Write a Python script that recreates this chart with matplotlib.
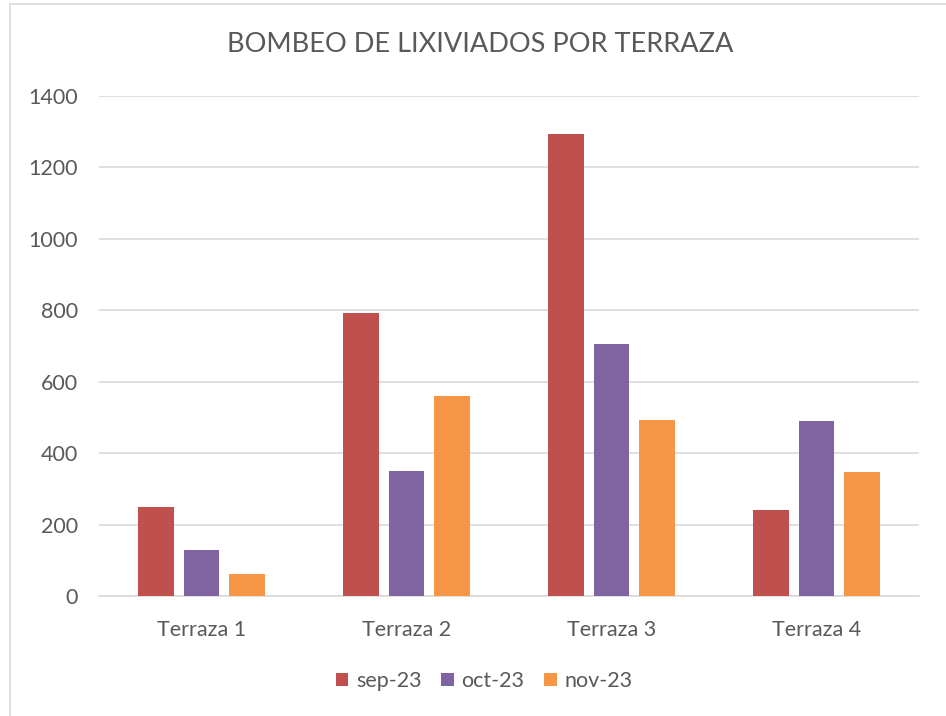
import numpy as np
from matplotlib import pyplot as plt
from matplotlib.lines import Line2D

# Data
categories = ['Terraza 1', 'Terraza 2', 'Terraza 3', 'Terraza 4']
series_names = ['sep-23', 'oct-23', 'nov-23']
sep_23 = [250, 793, 1293, 240]
oct_23 = [130, 350, 706, 490]
nov_23 = [62, 560, 492, 347]
colors = ['#C0504D', '#8064A2', '#F79646']

plt.rcParams['font.family'] = ['Lato', 'DejaVu Sans']
text_color = '#595959'
grid_color = '#D9D9D9'

fig = plt.figure(figsize=(9.46, 7.16), dpi=100)
ax = fig.add_axes([99 / 946, 1 - 596 / 716, 820 / 946, 500 / 716])

x = np.arange(len(categories))
width = 0.175
offset = 0.22
for i, (vals, name) in enumerate(zip([sep_23, oct_23, nov_23], series_names)):
    ax.bar(x + (i - 1) * offset, vals, width, color=colors[i], label=name, zorder=3)

ax.set_xlim(-0.5, len(categories) - 0.5)
ax.set_ylim(0, 1400)
ax.set_yticks(range(0, 1401, 200))
ax.set_xticks(x)
ax.set_xticklabels(categories)
ax.grid(axis='y', color=grid_color, linewidth=1.2, zorder=0)
for side in ['top', 'right', 'left']:
    ax.spines[side].set_visible(False)
ax.spines['bottom'].set_color(grid_color)
ax.spines['bottom'].set_linewidth(1.2)
ax.tick_params(axis='both', length=0, labelsize=15.5, colors=text_color)
ax.tick_params(axis='y', pad=15)
ax.tick_params(axis='x', pad=17)

fig.text(480 / 946, 1 - 45 / 716, 'BOMBEO DE LIXIVIADOS POR TERRAZA',
         ha='center', va='center', fontsize=19.5, color=text_color)

leg = fig.legend(loc='center', bbox_to_anchor=(484 / 946, 1 - 681 / 716), ncol=3,
                 frameon=False, fontsize=15.5, handlelength=0.6, handleheight=0.6,
                 handletextpad=0.35, columnspacing=0.9)
for t in leg.get_texts():
    t.set_color(text_color)

# chart frame
fig.add_artist(Line2D([10 / 946, 10 / 946], [0, 1 - 4 / 716], transform=fig.transFigure,
                      color=grid_color, linewidth=1.2))
fig.add_artist(Line2D([10 / 946, 1], [1 - 4 / 716, 1 - 4 / 716], transform=fig.transFigure,
                      color=grid_color, linewidth=1.2))

fig.savefig('out.png', dpi=100)
